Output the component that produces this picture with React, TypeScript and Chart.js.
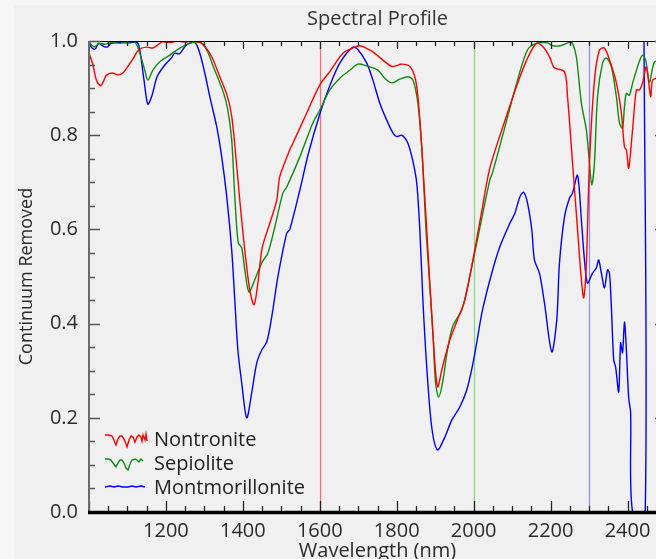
import React, { useEffect, useRef } from 'react';
import { Chart, registerables } from 'chart.js';

Chart.register(...registerables);

// ---------- data ----------
const nontroniteWl = [
  1000, 1010, 1020, 1030, 1038, 1045, 1060, 1075, 1088, 1100, 1115, 1130, 1150, 1165, 1176, 1190,
  1210, 1230, 1250, 1270, 1290, 1305, 1320, 1340, 1360, 1371, 1380, 1392, 1405, 1418, 1429, 1439,
  1449, 1457, 1470, 1488, 1496, 1522, 1530, 1566, 1600, 1626, 1660, 1685, 1704, 1720, 1738, 1760,
  1787, 1800, 1813, 1834, 1847, 1855, 1865, 1868, 1878, 1881, 1894, 1906, 1919, 1938, 1958, 1977,
  1998, 2020, 2042, 2076, 2111, 2138, 2163, 2180, 2197, 2210, 2236, 2244, 2257, 2270, 2280, 2286,
  2293, 2301, 2314, 2327, 2340, 2353, 2371, 2384, 2392, 2397, 2403, 2413, 2423, 2431, 2439, 2449,
  2460, 2465, 2475, 2490,
];
const nontroniteVal = [
  0.975, 0.95, 0.915, 0.905, 0.915, 0.927, 0.932, 0.928, 0.932, 0.945, 0.963, 0.982, 0.987, 0.985, 0.99, 0.998,
  0.997, 1.0, 0.998, 1.0, 0.997, 0.985, 0.965, 0.924, 0.882, 0.84, 0.77, 0.662, 0.556, 0.471, 0.44, 0.486,
  0.556, 0.581, 0.613, 0.662, 0.712, 0.769, 0.783, 0.847, 0.907, 0.935, 0.974, 0.985, 0.99, 0.985, 0.977, 0.962,
  0.946, 0.948, 0.951, 0.946, 0.924, 0.882, 0.775, 0.733, 0.6, 0.556, 0.38, 0.266, 0.308, 0.365, 0.408, 0.45,
  0.535, 0.634, 0.73, 0.818, 0.903, 0.96, 0.995, 0.988, 0.967, 0.943, 0.935, 0.882, 0.741, 0.6, 0.493, 0.455,
  0.528, 0.741, 0.917, 0.981, 0.985, 0.96, 0.911, 0.847, 0.775, 0.769, 0.73, 0.811, 0.896, 0.896, 0.911, 0.945,
  0.882, 0.917, 0.921, 0.93,
];

const sepioliteWl = [
  1000, 1008, 1016, 1025, 1040, 1060, 1080, 1100, 1120, 1132, 1145, 1153, 1166, 1184, 1210, 1236,
  1262, 1288, 1306, 1323, 1349, 1361, 1371, 1379, 1388, 1397, 1405, 1416, 1431, 1449, 1465, 1483,
  1504, 1514, 1548, 1582, 1600, 1626, 1652, 1678, 1699, 1722, 1751, 1769, 1787, 1808, 1829, 1842,
  1855, 1865, 1870, 1876, 1881, 1894, 1901, 1909, 1919, 1932, 1945, 1969, 1984, 2008, 2042, 2049,
  2086, 2114, 2140, 2163, 2192, 2205, 2225, 2249, 2257, 2267, 2280, 2293, 2301, 2307, 2314, 2322,
  2335, 2345, 2358, 2371, 2379, 2387, 2392, 2397, 2405, 2413, 2421, 2429, 2439, 2447, 2457, 2470,
  2490,
];
const sepioliteVal = [
  0.999, 0.99, 0.988, 0.995, 0.993, 0.997, 0.995, 0.998, 0.997, 0.974, 0.938, 0.917, 0.938, 0.956, 0.97, 0.985,
  0.995, 0.997, 0.981, 0.946, 0.892, 0.853, 0.79, 0.67, 0.571, 0.561, 0.514, 0.467, 0.493, 0.529, 0.55, 0.605,
  0.677, 0.69, 0.754, 0.826, 0.853, 0.896, 0.921, 0.938, 0.951, 0.947, 0.938, 0.921, 0.911, 0.919, 0.924, 0.917,
  0.868, 0.775, 0.7, 0.6, 0.54, 0.38, 0.274, 0.244, 0.274, 0.344, 0.393, 0.429, 0.478, 0.571, 0.705, 0.72,
  0.832, 0.917, 0.981, 0.995, 0.996, 0.99, 0.99, 0.997, 0.995, 0.966, 0.868, 0.811, 0.741, 0.694, 0.741, 0.882,
  0.953, 0.964, 0.945, 0.882, 0.826, 0.815, 0.86, 0.889, 0.885, 0.91, 0.932, 0.953, 0.97, 0.96, 0.913, 0.955,
  0.96,
];

const montmorilloniteWl = [
  1000, 1008, 1016, 1025, 1035, 1047, 1058, 1080, 1100, 1125, 1132, 1143, 1153, 1164, 1177, 1197,
  1215, 1223, 1235, 1254, 1275, 1288, 1301, 1314, 1332, 1345, 1358, 1371, 1379, 1387, 1397, 1410,
  1423, 1436, 1449, 1462, 1475, 1491, 1514, 1522, 1550, 1570, 1600, 1626, 1652, 1686, 1699, 1722,
  1738, 1756, 1774, 1790, 1800, 1813, 1829, 1842, 1852, 1860, 1868, 1878, 1891, 1906, 1925, 1943,
  1964, 1982, 1998, 2008, 2023, 2047, 2068, 2094, 2107, 2120, 2130, 2140, 2151, 2158, 2171, 2184,
  2203, 2216, 2223, 2236, 2249, 2257, 2270, 2280, 2288, 2296, 2309, 2319, 2325, 2332, 2340, 2348,
  2353, 2358, 2364, 2369, 2377, 2382, 2387, 2392, 2397, 2403, 2408, 2413, 2446, 2448, 2500,
];
const montmorilloniteVal = [
  0.995, 0.985, 0.983, 0.995, 0.99, 0.987, 0.995, 0.997, 0.996, 0.997, 0.981, 0.917, 0.866, 0.885, 0.924, 0.949,
  0.965, 0.974, 0.973, 0.992, 0.997, 0.974, 0.932, 0.882, 0.818, 0.754, 0.67, 0.556, 0.45, 0.344, 0.274, 0.2,
  0.253, 0.316, 0.344, 0.361, 0.414, 0.499, 0.592, 0.6, 0.69, 0.76, 0.845, 0.905, 0.953, 0.987, 0.982, 0.953,
  0.917, 0.868, 0.832, 0.805, 0.797, 0.8, 0.783, 0.745, 0.698, 0.6, 0.45, 0.308, 0.18, 0.132, 0.159, 0.195,
  0.223, 0.259, 0.315, 0.36, 0.429, 0.507, 0.563, 0.613, 0.634, 0.669, 0.679, 0.656, 0.6, 0.535, 0.507, 0.444,
  0.34, 0.408, 0.528, 0.626, 0.666, 0.677, 0.715, 0.62, 0.535, 0.486, 0.507, 0.518, 0.535, 0.507, 0.476, 0.514,
  0.507, 0.435, 0.323, 0.308, 0.255, 0.359, 0.338, 0.403, 0.344, 0.242, 0.212, 0.0, 0.0, 1.5, 1.5,
];

const seriesNames = ['Nontronite', 'Sepiolite', 'Montmorillonite'];
const seriesColors = ['#ff0000', '#108a10', '#0000ff'];

const markerWl = [1600, 2000, 2300];
const markerColors = ['rgba(255,80,80,0.85)', 'rgba(120,215,120,0.95)', 'rgba(120,120,255,0.85)'];

const xMin = 1000;
const xMax = 2500;
const xMajorStep = 200;
const xMinorStep = 50;
const yMajorStep = 0.2;
const yMinorStep = 0.05;

const FONT = "'Open Sans', 'Noto Sans', sans-serif";

const toPoints = (wl: number[], v: number[]) => wl.map((x, i) => ({ x, y: v[i] }));

// small legend glyphs (relative shape offsets)
const legendGlyphs: number[][][] = [
  [[0, 2], [4, 2], [7, 3], [9, 7], [11, 12], [13, 6], [15, 3], [17, 3], [19, 6], [21, 11], [22, 14], [24, 7], [26, 3], [28, 4], [30, 9], [32, 4], [34, 2], [36, 4], [37, 8], [38, 2], [40, 7], [41, 1], [42, 8]],
  [[0, 2], [4, 2], [6, 3], [8, 6], [11, 10], [13, 6], [15, 3], [17, 3], [19, 6], [21, 11], [23, 13], [25, 7], [27, 3], [30, 2], [32, 3], [34, 5], [36, 2], [38, 4]],
  [[0, 2], [5, 1], [9, 2], [13, 1], [18, 2], [23, 2], [27, 1], [31, 2], [36, 1], [40, 2]],
];

const framePlugin = {
  id: 'framePlugin',
  beforeDraw(chart: any) {
    const { ctx, width, height } = chart;
    ctx.save();
    ctx.fillStyle = '#f0f0f0';
    ctx.fillRect(0, 0, width, height);
    ctx.fillStyle = '#f6f6f6';
    ctx.fillRect(0, 0, width, 5);
    ctx.fillRect(0, 0, 14, height);
    ctx.restore();
  },
  beforeDatasetsDraw(chart: any) {
    const { ctx, chartArea, scales } = chart;
    ctx.save();
    ctx.lineWidth = 1.2;
    markerWl.forEach((w, i) => {
      const x = Math.round(scales.x.getPixelForValue(w)) + 0.5;
      ctx.strokeStyle = markerColors[i];
      ctx.beginPath();
      ctx.moveTo(x, chartArea.top);
      ctx.lineTo(x, chartArea.bottom);
      ctx.stroke();
    });
    ctx.restore();
  },
  afterDatasetsDraw(chart: any) {
    const { ctx, chartArea, scales } = chart;
    const { left, right, top, bottom } = chartArea;
    const xs = scales.x;
    const ys = scales.y;
    ctx.save();
    // top axis
    ctx.strokeStyle = '#000';
    ctx.lineWidth = 1.2;
    ctx.beginPath();
    ctx.moveTo(left, top + 0.5);
    ctx.lineTo(right, top + 0.5);
    ctx.stroke();
    // x ticks (top and bottom)
    for (let w = xMin; w <= xMax + 0.01; w += xMinorStep) {
      const x = Math.round(xs.getPixelForValue(w)) + 0.5;
      const major = Math.abs((w - xMin) % xMajorStep) < 0.01;
      ctx.strokeStyle = '#222';
      ctx.lineWidth = 1.3;
      ctx.beginPath();
      ctx.moveTo(x, top);
      ctx.lineTo(x, top + (major ? 8 : 5));
      ctx.moveTo(x, bottom);
      ctx.lineTo(x, bottom - (major ? 11 : 6));
      ctx.stroke();
    }
    // y ticks (left and right)
    for (let v = 0; v <= 1.0001; v += yMinorStep) {
      const y = Math.round(ys.getPixelForValue(v)) + 0.5;
      const major = Math.abs(v / yMajorStep - Math.round(v / yMajorStep)) < 0.01;
      ctx.strokeStyle = '#555';
      ctx.lineWidth = 1.3;
      ctx.beginPath();
      ctx.moveTo(left, y);
      ctx.lineTo(left + (major ? 11 : 6), y);
      ctx.moveTo(right, y);
      ctx.lineTo(right - (major ? 11 : 6), y);
      ctx.stroke();
    }
    // left & right axes
    ctx.strokeStyle = '#6a6a6a';
    ctx.lineWidth = 2;
    ctx.beginPath();
    ctx.moveTo(left, top);
    ctx.lineTo(left, bottom);
    ctx.moveTo(right, top);
    ctx.lineTo(right, bottom);
    ctx.stroke();
    // bottom axis thick
    ctx.strokeStyle = '#000';
    ctx.lineWidth = 3.5;
    ctx.beginPath();
    ctx.moveTo(left - 1, bottom + 0.5);
    ctx.lineTo(right, bottom + 0.5);
    ctx.stroke();

    // legend
    const lx = left + 16;
    const baseY = bottom - 66;
    ctx.font = `20px ${FONT}`;
    ctx.textBaseline = 'alphabetic';
    ctx.textAlign = 'left';
    seriesNames.forEach((name, i) => {
      const yb = baseY + i * 24;
      const g = legendGlyphs[i];
      ctx.strokeStyle = seriesColors[i];
      ctx.lineWidth = 1.4;
      ctx.beginPath();
      const oy = i === 2 ? yb - 9 : yb - 13;
      g.forEach((p, k) => {
        const px = lx + p[0];
        const py = oy + p[1];
        if (k === 0) ctx.moveTo(px, py);
        else ctx.lineTo(px, py);
      });
      ctx.stroke();
      ctx.fillStyle = '#222';
      ctx.fillText(name, lx + 49, yb);
    });
    ctx.restore();
  },
};

export default function App() {
  const canvasRef = useRef<HTMLCanvasElement | null>(null);

  useEffect(() => {
    const canvas = canvasRef.current;
    if (!canvas) return;
    const wlSets = [nontroniteWl, sepioliteWl, montmorilloniteWl];
    const valSets = [nontroniteVal, sepioliteVal, montmorilloniteVal];
    const chart = new Chart(canvas, {
      type: 'line',
      data: {
        datasets: seriesNames.map((name, i) => ({
          label: name,
          data: toPoints(wlSets[i], valSets[i]),
          borderColor: seriesColors[i],
          backgroundColor: seriesColors[i],
          borderWidth: 1.4,
          pointRadius: 0,
          tension: 0.3,
          fill: false,
        })),
      },
      options: {
        animation: false,
        responsive: false,
        maintainAspectRatio: false,
        devicePixelRatio: 1,
        layout: { padding: { left: 0, right: 0, top: 0, bottom: 0 } },
        plugins: {
          legend: { display: false },
          tooltip: { enabled: false },
          title: {
            display: true,
            text: 'Spectral Profile',
            color: '#333',
            font: { family: FONT, size: 20, weight: 'normal', lineHeight: 1.2 },
            padding: { top: 7, bottom: 10 },
          },
        },
        scales: {
          x: {
            type: 'linear',
            min: xMin,
            max: xMax,
            grid: { display: false, drawTicks: false },
            border: { display: false },
            ticks: {
              stepSize: xMajorStep,
              includeBounds: false,
              autoSkip: false,
              maxRotation: 0,
              padding: 7,
              color: '#2a2a2a',
              font: { family: FONT, size: 20 },
              callback: (v: any) => (Number(v) === xMin ? '' : String(v)),
            },
            title: {
              display: true,
              text: 'Wavelength (nm)',
              color: '#2a2a2a',
              font: { family: FONT, size: 20, lineHeight: 1.2 },
              padding: { top: 0, bottom: 6.6 },
            },
            afterFit: (scale: any) => {
              scale.height = 58;
            },
          },
          y: {
            type: 'linear',
            min: 0,
            max: 1,
            grid: { display: false, drawTicks: false },
            border: { display: false },
            ticks: {
              stepSize: yMajorStep,
              padding: 11,
              color: '#2a2a2a',
              font: { family: FONT, size: 20 },
              callback: (v: any) => Number(v).toFixed(1),
            },
            title: {
              display: true,
              text: 'Continuum Removed',
              color: '#2a2a2a',
              font: { family: FONT, size: 18, lineHeight: 1.2 },
              padding: { top: 16, bottom: 0 },
            },
            afterFit: (scale: any) => {
              scale.width = 89;
            },
          },
          yRight: {
            type: 'linear',
            position: 'right',
            min: 0,
            max: 1,
            grid: { display: false, drawTicks: false },
            border: { display: false },
            ticks: { display: false },
            afterFit: (scale: any) => {
              scale.width = 89;
            },
          },
        },
      },
      plugins: [framePlugin],
    });
    return () => chart.destroy();
  }, []);

  return (
    <div
      style={{
        position: 'fixed',
        left: 0,
        top: 0,
        width: 656,
        height: 559,
        overflow: 'hidden',
        background: '#f0f0f0',
      }}
    >
      <canvas ref={canvasRef} width={755} height={570} style={{ display: 'block', width: 755, height: 570 }} />
    </div>
  );
}
